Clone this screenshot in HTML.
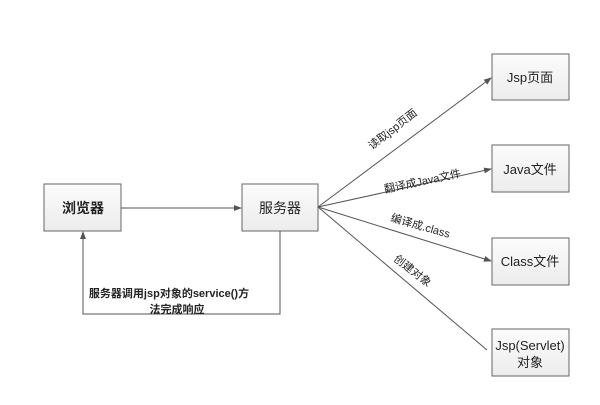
<!DOCTYPE html>
<html><head><meta charset="utf-8"><style>
body{margin:0;background:#fff;width:600px;height:400px;overflow:hidden}
svg text{font-family:"Liberation Sans","Noto Sans CJK SC",sans-serif}
</style></head><body>
<svg width="600" height="400" xmlns="http://www.w3.org/2000/svg">
<defs>
<linearGradient id="g" x1="0" y1="0" x2="0" y2="1"><stop offset="0" stop-color="#fcfcfc"/><stop offset="1" stop-color="#ececec"/></linearGradient>
<marker id="a" markerWidth="8" markerHeight="8" refX="7" refY="4" orient="auto" markerUnits="userSpaceOnUse"><path d="M0,1 L8,4 L0,7z" fill="#555"/></marker>
</defs>
<g stroke="#666" fill="url(#g)" stroke-width="1">
<rect x="44" y="184" width="77" height="47"/>
<rect x="242" y="184" width="76" height="47"/>
<rect x="492" y="54" width="77" height="46"/>
<rect x="492" y="145" width="77" height="47"/>
<rect x="492" y="238" width="77" height="47"/>
<rect x="492" y="329" width="77" height="47"/>
</g>
<g stroke="#555" stroke-width="1" fill="none" marker-end="url(#a)">
<line x1="121" y1="208" x2="241" y2="208"/>
<line x1="318" y1="207" x2="491" y2="78"/>
<line x1="318" y1="207" x2="491" y2="169"/>
<line x1="318" y1="207" x2="491" y2="261"/>
<polyline points="280,231 280,314 83,314 83,232"/>
</g>
<line x1="318" y1="207" x2="487" y2="350" stroke="#555" stroke-width="1"/>
<g font-size="13" fill="#222" text-anchor="middle">
<text x="83" y="213" font-weight="bold" font-size="14">浏览器</text>
<text x="280" y="213" font-size="14">服务器</text>
<text x="530" y="82">Jsp页面</text>
<text x="530" y="174">Java文件</text>
<text x="530" y="266">Class文件</text>
<text x="530" y="350">Jsp(Servlet)</text>
<text x="530" y="367">对象</text>
</g>
<g font-size="11" fill="#222">
<text transform="translate(372,150) rotate(-38)">读取jsp页面</text>
<text transform="translate(385,193) rotate(-12)">翻译成Java文件</text>
<text transform="translate(390,221) rotate(16)">编译成.class</text>
<text transform="translate(393,260) rotate(38)">创建对象</text>
<g text-anchor="middle" font-weight="bold">
<text x="169" y="297">服务器调用jsp对象的service()方</text>
<text x="177" y="313">法完成响应</text>
</g>
</g>
</svg>
</body></html>
